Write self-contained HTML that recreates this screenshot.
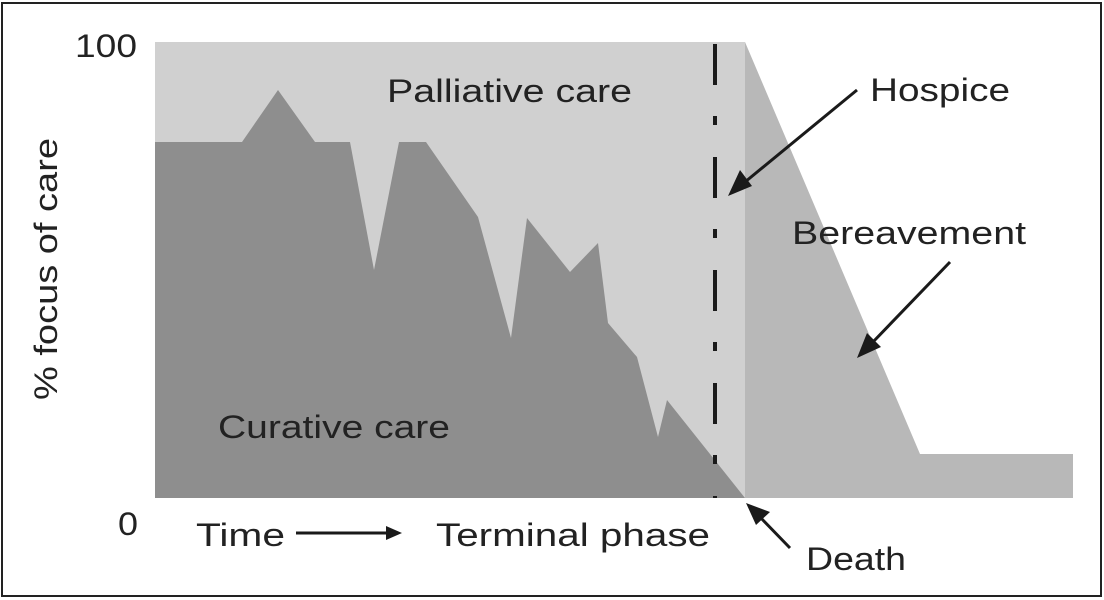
<!DOCTYPE html>
<html><head><meta charset="utf-8"><style>
html,body{margin:0;padding:0;background:#fff;}
svg{display:block;}
text{font-family:"Liberation Sans",sans-serif;fill:#222;}
</style></head><body>
<svg width="1104" height="600" viewBox="0 0 1104 600" xmlns="http://www.w3.org/2000/svg">
<rect x="2" y="3" width="1099" height="593" fill="#fff" stroke="#222" stroke-width="2"/>
<rect x="155" y="42" width="590" height="456" fill="#d0d0d0"/>
<polygon points="745,42 920,454 1073,454 1073,498 745,498" fill="#b8b8b8"/>
<polygon points="155,142 242,142 278,90 315,142 350,142 374,270 399,142 426,142 478,217 511,338 527,218 570,272 598,243 608,323 637,357 658,437 667,400 745,498 155,498" fill="#8e8e8e"/>
<line x1="715" y1="44" x2="715" y2="498" stroke="#1a1a1a" stroke-width="4" stroke-dasharray="41,31,9,32"/>
<line x1="857" y1="90" x2="745" y2="182" stroke="#1a1a1a" stroke-width="3"/>
<polygon points="728,196 740,170 752,186" fill="#1a1a1a"/>
<line x1="950" y1="262" x2="872" y2="343" stroke="#1a1a1a" stroke-width="3"/>
<polygon points="857,358 867,333 881,347" fill="#1a1a1a"/>
<line x1="790" y1="548" x2="758" y2="515" stroke="#1a1a1a" stroke-width="3"/>
<polygon points="746,503 770,512 756,525" fill="#1a1a1a"/>
<line x1="296" y1="533" x2="388" y2="533" stroke="#1a1a1a" stroke-width="3"/>
<polygon points="402,533 386,526 386,540" fill="#1a1a1a"/>
<text x="75" y="57" font-size="32" textLength="62" lengthAdjust="spacingAndGlyphs">100</text>
<text x="118" y="535" font-size="32" textLength="20" lengthAdjust="spacingAndGlyphs">0</text>
<text transform="translate(57,400) rotate(-90)" font-size="32" textLength="262" lengthAdjust="spacingAndGlyphs">% focus of care</text>
<text x="387" y="102" font-size="32" textLength="245" lengthAdjust="spacingAndGlyphs">Palliative care</text>
<text x="218" y="438" font-size="32" textLength="232" lengthAdjust="spacingAndGlyphs">Curative care</text>
<text x="870" y="101" font-size="32" textLength="140" lengthAdjust="spacingAndGlyphs">Hospice</text>
<text x="792" y="244" font-size="32" textLength="234" lengthAdjust="spacingAndGlyphs">Bereavement</text>
<text x="196" y="546" font-size="32" textLength="89" lengthAdjust="spacingAndGlyphs">Time</text>
<text x="436" y="546" font-size="32" textLength="274" lengthAdjust="spacingAndGlyphs">Terminal phase</text>
<text x="806" y="570" font-size="32" textLength="100" lengthAdjust="spacingAndGlyphs">Death</text>
</svg>
</body></html>
